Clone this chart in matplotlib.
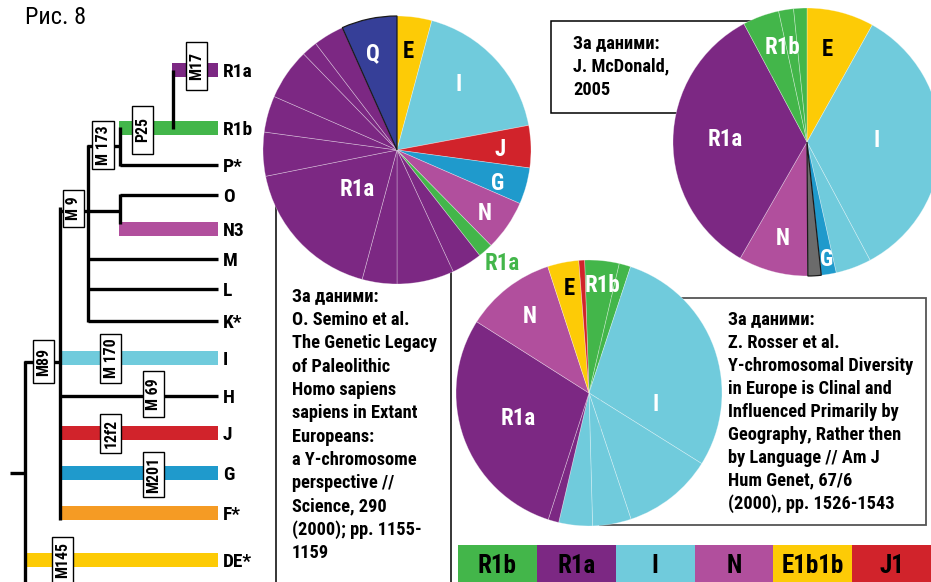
import matplotlib
matplotlib.use("Agg")
import matplotlib.pyplot as plt
import matplotlib.font_manager as fm
from matplotlib.font_manager import FontProperties
from matplotlib.textpath import TextPath
from matplotlib.patches import Rectangle

# ---------------- data ----------------
COLORS = {
    "R1a": "#7c2883", "R1b": "#43b64a", "I": "#70cbdc", "N": "#b14f9d",
    "E": "#fdcb06", "J": "#d1232b", "G": "#1f9acc", "Q": "#363f98",
    "F": "#f59b24", "other": "#6b6b6b",
}

# Pie 1: Semino et al. (clockwise from top, %)
semino_groups = ["E", "I", "J", "G", "N", "R1b", "R1a", "R1a", "R1a", "R1a",
                 "R1a", "R1a", "R1a", "R1a", "R1a", "Q"]
semino_values = [4.2, 17.9, 5.1, 4.4, 6.1, 1.8, 3.7, 6.9, 4.2, 17.7,
                 5.3, 4.4, 6.2, 1.9, 3.7, 6.7]

# Pie 2: J. McDonald 2005 (clockwise from top, %)
mcdonald_groups = ["E", "I", "I", "G", "other", "N", "R1a", "R1b", "R1b", "R1b"]
mcdonald_values = [8.1, 34.1, 4.3, 1.8, 1.6, 8.4, 33.9, 4.4, 1.8, 1.6]

# Pie 3: Rosser et al. (clockwise, %)
rosser_groups = ["R1b", "R1b", "I", "I", "I", "I", "R1a", "R1a", "N", "E", "J"]
rosser_values = [4.2, 1.4, 28.9, 11.0, 4.7, 4.1, 1.3, 29.1, 11.0, 3.8, 0.7]

legend_labels = ["R1b", "R1a", "I", "N", "E1b1b", "J1"]
legend_groups = ["R1b", "R1a", "I", "N", "E", "J"]

tree_labels = ["R1a", "R1b", "P*", "O", "N3", "M", "L", "K*",
               "I", "H", "J", "G", "F*", "DE*"]
tree_colors = [COLORS["R1a"], COLORS["R1b"], None, None, COLORS["N"], None, None, None,
               COLORS["I"], None, COLORS["J"], COLORS["G"], COLORS["F"], COLORS["E"]]
marker_labels = ["M17", "P25", "M 173", "M 9", "M89", "M 170", "M 69", "12f2", "M201", "M145"]

semino_text = ["За даними:", "O. Semino et al.", "The Genetic Legacy", "of Paleolithic",
               "Homo sapiens", "sapiens in Extant", "Europeans:", "a Y-chromosome",
               "perspective //", "Science, 290", "(2000); pp. 1155-", "1159"]
mcdonald_text = ["За даними:", "J. McDonald,", "2005"]
rosser_text = ["За даними:", "Z. Rosser et al.", "Y-chromosomal Diversity",
               "in Europe is Clinal and", "Influenced Primarily by",
               "Geography, Rather then", "by Language // Am J",
               "Hum Genet, 67/6", "(2000), pp. 1526-1543"]

# ---------------- fonts ----------------
_names = {f.name for f in fm.fontManager.ttflist}
FAMILY = "DejaVu Sans"
for cand in ["Liberation Sans Narrow", "Roboto Condensed", "Noto Sans CJK SC", "Lato", "Roboto",
             "Liberation Sans"]:
    if cand in _names:
        FAMILY = cand
        break
BOLD = FontProperties(family=[FAMILY, "DejaVu Sans"], weight="bold")
REGULAR = FontProperties(family=[FAMILY, "DejaVu Sans"], weight="normal")
PX = 100 / 72.0


def ink(s, fp):
    e = TextPath((0, 0), s, size=100, prop=fp).get_extents()
    return e.width / 100 * PX, e.height / 100 * PX   # px per pt of font size


def fit(s, fp, target_w, target_cap, slack=1.15):
    w, _ = ink(s, fp)
    _, c = ink("H", fp)
    return min(target_w / w, slack * target_cap / c)


CAP_B = ink("H", BOLD)[1]
CAP_R = ink("H", REGULAR)[1]

S_TREE = fit("R1a", BOLD, 28, 13)
S_PIE = fit("R1a", BOLD, 33, 15)
S_LEG = fit("E1b1b", BOLD, 60, 19)
S_BOX = fit("M 173", BOLD, 38, 12.3, slack=1.2)
S_REF = fit("The Genetic Legacy", BOLD, 144, 11.7)
S_TITLE = fit("Рис. 8", REGULAR, 58, 15)

# ---------------- setup ----------------
W, H = 931, 582
fig = plt.figure(figsize=(W / 100, H / 100), dpi=100)
ax = fig.add_axes([0, 0, 1, 1])


def Y(y):
    return H - y


def label(x, yc, s, size, color="black", ha="left", fp=BOLD, rotation=0, z=6):
    p = fp.copy()
    p.set_size(size)
    if rotation == 0:
        cap = (CAP_B if fp is BOLD else CAP_R) * size
        ax.text(x, Y(yc) - cap / 2, s, fontproperties=p, color=color, ha=ha, va="baseline",
                zorder=z)
    else:
        ax.text(x, Y(yc), s, fontproperties=p, color=color, ha="center", va="center",
                rotation=rotation, rotation_mode="anchor", zorder=z)


def hline(x0, x1, y, lw=2.4, color="black", z=4):
    ax.plot([x0, x1], [Y(y), Y(y)], color=color, lw=lw, solid_capstyle="butt", zorder=z)


def vline(x, y0, y1, lw=2.4, color="black", z=4):
    ax.plot([x, x], [Y(y0), Y(y1)], color=color, lw=lw, solid_capstyle="butt", zorder=z)


def draw_pie(values, groups, cx, cy, r, start_bearing, outlined=()):
    wedges, _ = ax.pie(values, colors=[COLORS[g] for g in groups],
                       startangle=90 - start_bearing, counterclock=False,
                       center=(cx, Y(cy)), radius=r, frame=True,
                       wedgeprops=dict(linewidth=0.5, edgecolor=(1, 1, 1, 0.4)))
    for w, g in zip(wedges, groups):
        w.set_zorder(3)
        if g in outlined:
            w.set_edgecolor("#1a1a1a")
            w.set_linewidth(0.9)
            w.set_zorder(3.5)


# ---------------- boxes / frames ----------------
vline(276, 200, 582, lw=1.1, z=1)
vline(451, 260, 582, lw=1.1, z=1)
ax.add_patch(Rectangle((551, Y(113)), 220, 92, fill=False, ec="black", lw=1.1, zorder=1))
ax.add_patch(Rectangle((600, Y(525)), 326, 227, fill=False, ec="#555555", lw=1.3, zorder=1))

# ---------------- pies ----------------
draw_pie(semino_values, semino_groups, 397, 150, 134, 0, outlined=("Q",))
draw_pie(mcdonald_values, mcdonald_groups, 807, 142, 134, 0, outlined=("other",))
draw_pie(rosser_values, rosser_groups, 589, 393, 133, -1.9)

for x, y, s, c in [(373, 52, "Q", "white"), (408, 50, "E", "black"), (459, 83, "I", "white"),
                   (500, 148, "J", "white"), (498, 182, "G", "white"), (485, 212, "N", "white"),
                   (357, 188, "R1a", "white"), (502, 262, "R1a", COLORS["R1b"]),
                   (782, 46, "R1b", "white"), (827, 48, "E", "black"), (877, 139, "I", "white"),
                   (725, 138, "R1a", "white"), (783, 237, "N", "white"), (827, 258, "G", "white"),
                   (569, 287, "E", "black"), (603, 284, "R1b", "white"), (530, 315, "N", "white"),
                   (518, 417, "R1a", "white"), (656, 403, "I", "white")]:
    label(x, y, s, S_PIE, color=c, ha="center")

# ---------------- reference texts ----------------
for i, s in enumerate(semino_text):
    label(292, 295 + 23.36 * i, s, S_REF)
for i, s in enumerate(mcdonald_text):
    label(573, 42 + 23 * i, s, S_REF)
for i, s in enumerate(rosser_text):
    label(728, 318 + 23 * i, s, S_REF)

# ---------------- legend bar ----------------
x0, cw = 458, (931 - 458) / len(legend_labels)
for i, (lab, g) in enumerate(zip(legend_labels, legend_groups)):
    ax.add_patch(Rectangle((x0 + i * cw, Y(582)), cw, 37, fc=COLORS[g], ec="none", zorder=2))
    label(x0 + i * cw + cw / 2, 564, lab, S_LEG, ha="center")

# ---------------- tree ----------------
label(25, 15, "Рис. 8", S_TITLE, fp=REGULAR)

tree_y = [70, 128, 165, 195, 229, 259, 289, 321, 358, 396, 433, 473, 513, 560]
tree_x0 = [172, 119, 120, 120, 119, 88, 88, 88, 61, 60, 61, 61, 61, 27]
for lab, col, y, xs in zip(tree_labels, tree_colors, tree_y, tree_x0):
    if col is None:
        hline(xs, 218, y)
    else:
        hline(xs, 218, y, lw=14 / PX, color=col, z=3.8)
    label(223, y, lab, S_TREE)

vline(173, 70, 129)
vline(120, 127, 166)
hline(87, 121, 146)
vline(88, 145, 322)
hline(59, 121, 211)
vline(120, 194, 224)
vline(60, 207, 520)
hline(24, 61, 362)
vline(25, 361, 582)
hline(10, 26, 473)

marker_boxes = [(186, 207, 42, 90), (132, 153, 106, 154), (92, 114, 121, 169),
                (63, 84, 190, 227), (33, 54, 340, 383), (100, 121, 334, 383),
                (143, 164, 371, 417), (100, 121, 414, 453), (143, 164, 452, 497),
                (52, 73, 537, 592)]
for lab, (bx0, bx1, by0, by1) in zip(marker_labels, marker_boxes):
    ax.add_patch(Rectangle((bx0, Y(by1)), bx1 - bx0, by1 - by0, fc="white", ec="black",
                           lw=1.0, zorder=5))
    label((bx0 + bx1) / 2 + 0.5, (by0 + by1) / 2 if by1 < 582 else 560, lab, S_BOX, rotation=90)

ax.set_xlim(0, W)
ax.set_ylim(0, H)
ax.axis("off")
fig.savefig("out.png", dpi=100)
